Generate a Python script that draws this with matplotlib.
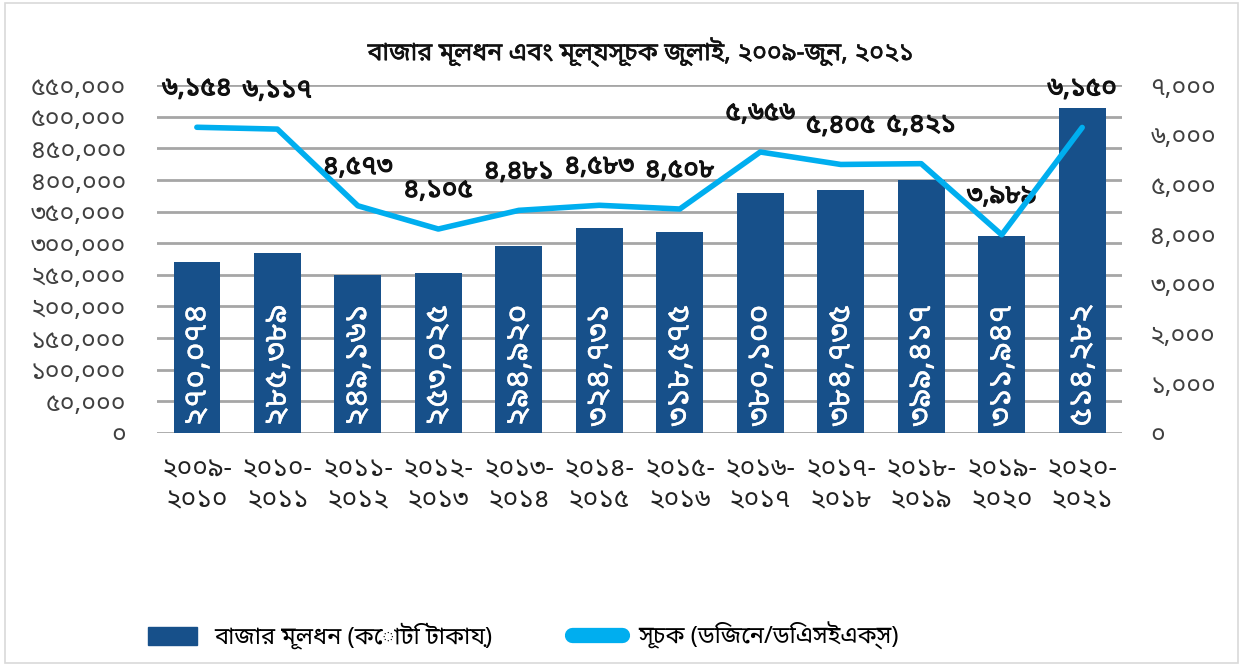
import matplotlib
matplotlib.use("Agg")
import matplotlib.pyplot as plt
import matplotlib.patheffects as pe
from matplotlib import font_manager as fm
from matplotlib.patches import Rectangle
from matplotlib.lines import Line2D
from fontTools.ttLib import TTFont

# data
years = ["2009-\n2010", "2010-\n2011", "2011-\n2012", "2012-\n2013", "2013-\n2014", "2014-\n2015",
         "2015-\n2016", "2016-\n2017", "2017-\n2018", "2018-\n2019", "2019-\n2020", "2020-\n2021"]
market_cap = [270074, 285389, 249161, 253025, 294920, 324731,
              318575, 380100, 384735, 399417, 311947, 514282]
index_vals = [6154, 6117, 4573, 4105, 4481, 4583, 4508, 5656, 5405, 5421, 3989, 6150]

title = "বাজার মূলধন এবং মূল্যসূচক জুলাই, ২০০৯-জুন, ২০২১"
bar_label = "বাজার মূলধন (কোটি টাকায়)"
line_label = "সূচক (ডিজেন/ডিএসইএক্স)"

BAR_COLOR = "#17508A"
LINE_COLOR = "#00AEEF"
GRID_COLOR = "#A6A6A6"
TICK_COLOR = "#404040"

BN_DIGITS = str.maketrans("0123456789", "০১২৩৪৫৬৭৮৯")


def bn(s):
    return str(s).translate(BN_DIGITS)


def bn_num(v):
    return bn(f"{int(v):,}")


# look for installed fonts that cover Bengali, prefer proportional sans ones
def find_bengali_font():
    found = []
    for f in fm.fontManager.ttflist:
        try:
            tt = TTFont(f.fname, fontNumber=0, lazy=True)
            cmap = tt.getBestCmap()
            if cmap and 0x09AC in cmap:
                found.append(f.name)
        except Exception:
            continue

    def score(name):
        n = name.lower()
        s = 0
        if "mono" in n or "code" in n:
            s += 10
        if "bengali" in n or "bangla" in n:
            s -= 3
        if "sans" in n:
            s -= 1
        return s

    found = sorted(set(found), key=score)
    return found[0] if found else None


bn_font = find_bengali_font()
families = ([bn_font] if bn_font else []) + ["DejaVu Sans"]
plt.rcParams["font.family"] = families

fig = plt.figure(figsize=(12.43, 6.66), dpi=100)
fig.patches.append(Rectangle((0.004, 0.004), 0.992, 0.992, transform=fig.transFigure,
                             fill=False, edgecolor="#D9D9D9", linewidth=1.2))

ax = fig.add_axes([0.126, 0.35, 0.777, 0.522])
x = range(len(years))

ax.bar(x, market_cap, width=0.58, color=BAR_COLOR, zorder=2)
ax.set_ylim(0, 550000)
ax.set_yticks(range(0, 550001, 50000))
ax.set_yticklabels([bn_num(v) for v in range(0, 550001, 50000)], fontsize=18, color=TICK_COLOR)
ax.set_xlim(-0.5, len(years) - 0.5)
ax.set_xticks(list(x))
ax.set_xticklabels([bn(y) for y in years], fontsize=19, color="#222222", linespacing=1.15)
ax.tick_params(axis="y", length=0, pad=22)
ax.tick_params(axis="x", length=0, pad=16)
ax.grid(axis="y", color=GRID_COLOR, linewidth=2, zorder=0)
for s in ax.spines.values():
    s.set_visible(False)

# bar value labels, white, reading bottom to top
for i, v in enumerate(market_cap):
    ax.text(i, 10000, bn_num(v), rotation=90, ha="center", va="bottom",
            color="white", fontsize=23, zorder=3,
            path_effects=[pe.withStroke(linewidth=0.3, foreground="white")])

ax2 = ax.twinx()
ax2.plot(x, index_vals, color=LINE_COLOR, linewidth=4, solid_capstyle="round",
         solid_joinstyle="round", zorder=4)
ax2.set_ylim(0, 7000)
ax2.set_yticks(range(0, 7001, 1000))
ax2.set_yticklabels([bn_num(v) for v in range(0, 7001, 1000)], fontsize=18, color=TICK_COLOR)
ax2.tick_params(axis="y", length=0, pad=20)
for s in ax2.spines.values():
    s.set_visible(False)

for i, v in enumerate(index_vals):
    ax2.annotate(bn_num(v), (i, v), xytext=(0, 28), textcoords="offset points",
                 ha="center", va="center", fontsize=19, color="#111111",
                 path_effects=[pe.withStroke(linewidth=0.8, foreground="#111111")])

fig.text(0.515, 0.922, title, ha="center", va="center", fontsize=18, color="#111111",
         path_effects=[pe.withStroke(linewidth=0.4, foreground="#111111")])

handles = [Rectangle((0, 0), 1, 1, color=BAR_COLOR),
           Line2D([0], [0], color=LINE_COLOR, linewidth=11, solid_capstyle="round")]
fig.legend(handles, [bar_label, line_label], loc="center", bbox_to_anchor=(0.421, 0.045),
           ncol=2, frameon=False, fontsize=17, handlelength=2.1, handleheight=0.8,
           columnspacing=3.4, handletextpad=0.7)

fig.savefig("out.png", dpi=100)
